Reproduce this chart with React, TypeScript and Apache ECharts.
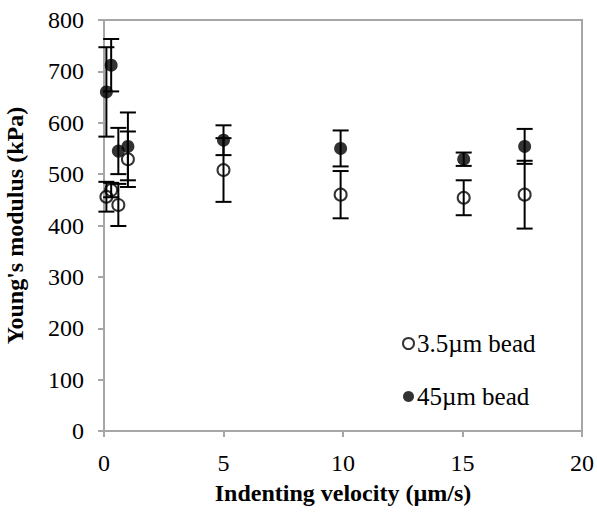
import React, { useEffect, useRef } from "react";
import * as echarts from "echarts";

const velocitySmall = [0.1, 0.3, 0.6, 1.0, 5.0, 9.9, 15.05, 17.6];
const modulusSmall = [456, 469, 440, 529, 508, 460, 454, 460];
const errSmall = [29, 14, 41, 54, 62, 46, 34, 66];

const velocityLarge = [0.1, 0.3, 0.6, 1.0, 5.0, 9.9, 15.05, 17.6];
const modulusLarge = [660, 712, 545, 554, 566, 550, 529, 554];
const errLarge = [87, 51, 45, 66, 29, 35, 13, 34];

const xTicks = { min: 0, max: 20, interval: 5 };
const yTicks = { min: 0, max: 800, interval: 100 };

const FONT = "Liberation Serif";

function errData(xs: number[], ys: number[], es: number[]) {
  return xs.map((x, i) => [x, ys[i], ys[i] - es[i], ys[i] + es[i]]);
}

function errRender(params: any, api: any) {
  const x = api.value(0);
  const lo = api.coord([x, api.value(2)]);
  const hi = api.coord([x, api.value(3)]);
  const half = 8;
  const style = { stroke: "#000", lineWidth: 2 };
  return {
    type: "group",
    children: [
      { type: "line", shape: { x1: hi[0], y1: hi[1], x2: lo[0], y2: lo[1] }, style },
      { type: "line", shape: { x1: hi[0] - half, y1: hi[1], x2: hi[0] + half, y2: hi[1] }, style },
      { type: "line", shape: { x1: lo[0] - half, y1: lo[1], x2: lo[0] + half, y2: lo[1] }, style },
    ],
  };
}

export default function App() {
  const ref = useRef<HTMLDivElement>(null);
  useEffect(() => {
    if (!ref.current) return;
    const chart = echarts.init(ref.current, undefined, { renderer: "svg" });
    const axisGray = "#a6a6a6";
    chart.setOption({
      animation: false,
      backgroundColor: "#fff",
      grid: {
        left: 104,
        right: 15,
        top: 20,
        bottom: 89,
        containLabel: false,
        outerBoundsMode: "none",
        show: true,
        borderColor: axisGray,
        borderWidth: 2,
        backgroundColor: "transparent",
      },
      legend: {
        orient: "vertical",
        left: 397,
        top: 326,
        itemGap: 28,
        itemWidth: 11,
        itemHeight: 11,
        textStyle: { fontFamily: FONT, fontSize: 25, color: "#000", padding: [0, 0, 0, -2] },
        data: ["3.5\u00b5m bead", "45\u00b5m bead"],
      },
      xAxis: {
        type: "value",
        min: xTicks.min,
        max: xTicks.max,
        interval: xTicks.interval,
        name: "Indenting velocity (\u00b5m/s)",
        nameLocation: "middle",
        nameGap: 50,
        nameTextStyle: { fontFamily: FONT, fontSize: 24, fontWeight: "bold", color: "#000" },
        axisLine: { show: true, lineStyle: { color: axisGray, width: 2 } },
        axisTick: { show: true, length: 6, lineStyle: { color: axisGray, width: 2 } },
        axisLabel: { fontFamily: FONT, fontSize: 24, color: "#000", margin: 20 },
        splitLine: { show: false },
      },
      yAxis: {
        type: "value",
        min: yTicks.min,
        max: yTicks.max,
        interval: yTicks.interval,
        name: "Young's modulus (kPa)",
        nameLocation: "middle",
        nameGap: 77,
        nameTextStyle: { fontFamily: FONT, fontSize: 24, fontWeight: "bold", color: "#000" },
        axisLine: { show: true, lineStyle: { color: axisGray, width: 2 } },
        axisTick: { show: true, length: 6, lineStyle: { color: axisGray, width: 2 } },
        axisLabel: { fontFamily: FONT, fontSize: 24, color: "#000", margin: 20 },
        splitLine: { show: false },
      },
      series: [
        {
          type: "custom",
          renderItem: errRender,
          data: errData(velocitySmall, modulusSmall, errSmall),
          z: 1,
          silent: true,
        },
        {
          type: "custom",
          renderItem: errRender,
          data: errData(velocityLarge, modulusLarge, errLarge),
          z: 1,
          silent: true,
        },
        {
          name: "3.5\u00b5m bead",
          type: "scatter",
          symbol: "circle",
          symbolSize: 12,
          data: velocitySmall.map((x, i) => [x, modulusSmall[i]]),
          itemStyle: { color: "transparent", borderColor: "#000", borderWidth: 2 },
          z: 3,
        },
        {
          name: "45\u00b5m bead",
          type: "scatter",
          symbol: "circle",
          symbolSize: 13,
          data: velocityLarge.map((x, i) => [x, modulusLarge[i]]),
          itemStyle: { color: "#000" },
          z: 3,
        },
      ],
    });
    return () => chart.dispose();
  }, []);
  return <div ref={ref} style={{ width: 597, height: 520, position: "absolute", left: 0, top: 0 }} />;
}
